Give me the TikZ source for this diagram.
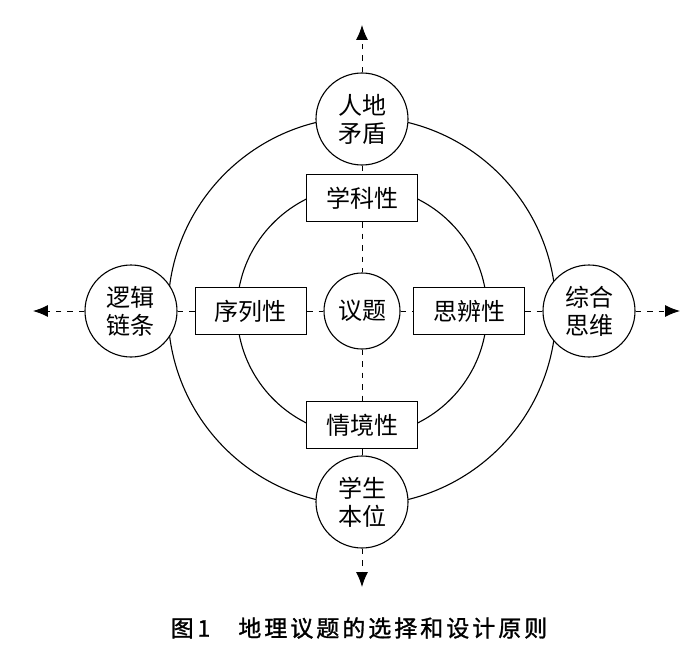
\documentclass[tikz,border=0pt]{standalone}
\usepackage{fontspec}
\usepackage{tikz}
\usetikzlibrary{arrows.meta}
\newfontfamily\cjk{Noto Sans CJK SC}
\newfontfamily\cjkcap{Noto Sans CJK SC}[LetterSpace=13,FakeBold=1.2]

\begin{document}
\begin{tikzpicture}[x=1pt,y=1pt,cap=butt]
  % Local definitions
  \def\outerr{194}
  \def\innerr{125}

  % Styles
  \tikzstyle{axis line}=[dash pattern=on 5.5pt off 6pt,line width=1pt]
  \tikzstyle{axis end}=[axis line,-{Latex[length=15pt,width=12pt]}]
  \tikzstyle{ring}=[line width=1.1pt]
  \tikzstyle{aspect}=[circle,draw,fill=white,line width=1.1pt,minimum size=92pt,inner sep=0pt,align=center,font=\cjk\fontsize{24}{28}\selectfont]
  \tikzstyle{topic}=[aspect,minimum size=76pt]
  \tikzstyle{trait}=[rectangle,draw,fill=white,line width=1.1pt,minimum width=111pt,minimum height=47pt,inner sep=0pt,font=\cjk\fontsize{24}{28}\selectfont]

  \useasboundingbox (-362,-356) rectangle (338,311);

  % Rings
  \draw[ring] (0,0) circle (\outerr);
  \draw[ring] (0,0) circle (\innerr);

  % Centre and the four aspects
  \node[topic] (yt) at (0,0) {议题};
  \node[aspect] (rd) at (90:192) {人地\\矛盾};
  \node[aspect] (xs) at (-90:191) {学生\\本位};
  \node[aspect] (lj) at (180:231) {逻辑\\链条};
  \node[aspect] (zh) at (0:227) {综合\\思维};

  % The four traits
  \node[trait] (xk) at (90:113) {学科性};
  \node[trait] (qj) at (-90:114) {情境性};
  \node[trait] (xl) at (180:111) {序列性};
  \node[trait] (sb) at (0:107) {思辨性};

  % Axes
  \coordinate (ntip) at (0,286);
  \coordinate (stip) at (0,-276);
  \coordinate (wtip) at (-329,0);
  \coordinate (etip) at (318,0);
  \foreach \a/\b in {lj/xl,xl/yt,yt/sb,sb/zh,rd/xk,xk/yt,yt/qj,qj/xs}
    \draw[axis line] (\a) -- (\b);
  \draw[axis end] (rd) -- (ntip);
  \draw[axis end] (xs) -- (stip);
  \draw[axis end] (lj) -- (wtip);
  \draw[axis end] (zh) -- (etip);

  % Caption
  \node[font=\cjkcap\fontsize{23}{26}\selectfont] (cap) at (-3,-317) {图\,1\hspace{28pt}地理议题的选择和设计原则};
\end{tikzpicture}
\end{document}
